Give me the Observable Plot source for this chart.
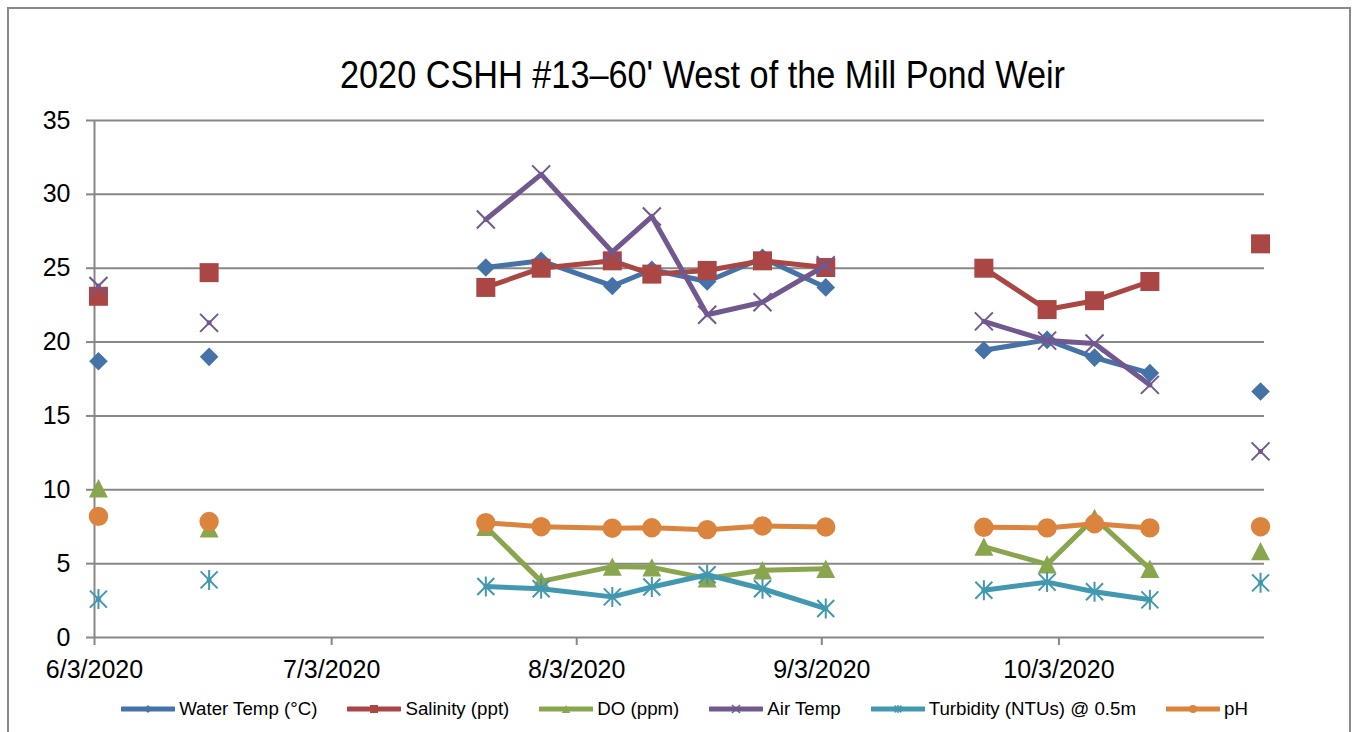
<!DOCTYPE html>
<html>
<head>
<meta charset="utf-8">
<script src="https://cdn.jsdelivr.net/npm/d3@7"></script>
<script src="https://cdn.jsdelivr.net/npm/@observablehq/plot@0.6"></script>
<style>
  body { margin: 0; background: #fff; font-family: "Liberation Sans", Arial, sans-serif; }
  #frame { position: absolute; left: 7px; top: 7px; width: 1344px; height: 780px; border: 2px solid #8a8a8a; box-sizing: border-box; }
  #title { position: absolute; left: 0; top: 0; }
  #chart { position: absolute; left: 0; top: 100px; }
  #legend { position: absolute; left: 12px; top: 692px; width: 1345px; height: 34px; display: flex; justify-content: center; align-items: center; gap: 30px; font-size: 18.7px; color: #000; }
  .item { display: flex; align-items: center; white-space: nowrap; }
  .item svg { margin-right: 4px; }
</style>
</head>
<body>
<div id="frame"></div>
<svg id="title" width="1357" height="100"></svg>
<div id="chart"></div>
<div id="legend"></div>
<script>
// ---- data ----
const titleText = "2020 CSHH #13\u201360' West of the Mill Pond Weir";
const dates = ["2020-06-03","2020-06-10","2020-06-17","2020-07-01","2020-07-22","2020-07-29","2020-08-07","2020-08-12","2020-08-19","2020-08-26","2020-09-03","2020-09-16","2020-09-23","2020-10-01","2020-10-07","2020-10-14","2020-10-21","2020-10-28"];
const waterTemp = [18.7, null, 19.0, null, 25.05, 25.5, 23.8, 24.9, 24.1, 25.7, 23.7, null, 19.45, 20.15, 18.95, 17.9, null, 16.65];
const salinity  = [23.1, null, 24.7, null, 23.7, 25.0, 25.5, 24.6, 24.85, 25.5, 25.05, null, 25.0, 22.2, 22.8, 24.1, null, 26.65];
const dissolvedO = [10.1, null, 7.4, null, 7.5, 3.8, 4.8, 4.75, 4.0, 4.55, 4.65, null, 6.15, 4.95, 8.1, 4.65, null, 5.85];
const airTemp   = [23.8, null, 21.3, null, 28.3, 31.35, 26.1, 28.5, 21.85, 22.7, 25.2, null, 21.4, 20.1, 19.9, 17.1, null, 12.6];
const turbidity = [2.6, null, 3.9, null, 3.45, 3.3, 2.75, 3.42, 4.25, 3.3, 1.96, null, 3.2, 3.75, 3.1, 2.55, null, 3.7];
const pH        = [8.2, null, 7.85, null, 7.77, 7.5, 7.4, 7.43, 7.3, 7.55, 7.48, null, 7.46, 7.42, 7.7, 7.42, null, 7.5];
const seriesNames = ["Water Temp (\u00b0C)", "Salinity (ppt)", "DO (ppm)", "Air Temp", "Turbidity (NTUs) @ 0.5m", "pH"];
const yTicks = [0, 5, 10, 15, 20, 25, 30, 35];
const xTickLabels = ["2020-06-03", "2020-07-03", "2020-08-03", "2020-09-03", "2020-10-03"];
const xDomain = ["2020-06-03", "2020-10-29"];

// ---- styles ----
const colors = ["#4572A7", "#AA4643", "#89A54E", "#71588F", "#4198AF", "#DB843D"];
const kinds = ["diamond", "square", "triangle", "times", "star", "circle"];
const values = [waterTemp, salinity, dissolvedO, airTemp, turbidity, pH];

function drawShape(c, kind, s) {
  if (kind === "diamond") { c.moveTo(0, -s); c.lineTo(s, 0); c.lineTo(0, s); c.lineTo(-s, 0); c.closePath(); }
  else if (kind === "square") { c.rect(-s, -s, 2 * s, 2 * s); }
  else if (kind === "triangle") { c.moveTo(0, -s); c.lineTo(s * 1.03, s); c.lineTo(-s * 1.03, s); c.closePath(); }
  else if (kind === "times") { c.moveTo(-s, -s); c.lineTo(s, s); c.moveTo(-s, s); c.lineTo(s, -s); }
  else if (kind === "star") { const d = s * 0.85; c.moveTo(-d, -d); c.lineTo(d, d); c.moveTo(-d, d); c.lineTo(d, -d); c.moveTo(0, -s); c.lineTo(0, s); }
  else if (kind === "circle") { c.moveTo(s, 0); c.arc(0, 0, s, 0, 2 * Math.PI); }
}
const markerSize = {diamond: 9.3, square: 9.5, triangle: 9.2, times: 9, star: 10, circle: 9.7};
const isStroke = k => k === "times" || k === "star";

const toDate = s => new Date(s + "T00:00:00Z");
const noon = s => new Date(s + "T12:00:00Z");

// ---- title ----
const tsvg = d3.select("#title");
tsvg.append("text")
  .attr("x", 702.5).attr("y", 88)
  .attr("text-anchor", "middle")
  .attr("font-family", "'Liberation Sans', Arial, sans-serif")
  .attr("font-size", 38)
  .attr("textLength", 725)
  .attr("lengthAdjust", "spacingAndGlyphs")
  .attr("fill", "#000")
  .text(titleText);

// ---- chart ----
const seriesMarks = [];
values.forEach((arr, i) => {
  const rows = dates.map((d, j) => ({date: noon(d), value: arr[j]}));
  const k = kinds[i];
  const sym = {draw(c) { drawShape(c, k, markerSize[k]); }};
  seriesMarks.push(Plot.line(rows, {x: "date", y: "value", stroke: colors[i], strokeWidth: 5, strokeLinejoin: "round", strokeLinecap: "round"}));
  seriesMarks.push(Plot.dot(rows.filter(r => r.value != null), isStroke(k)
    ? {x: "date", y: "value", symbol: sym, r: 9, fill: "none", stroke: colors[i], strokeWidth: 2}
    : {x: "date", y: "value", symbol: sym, r: 9, fill: colors[i], stroke: "none"}));
});

const fmt = d => `${d.getUTCMonth() + 1}/${d.getUTCDate()}/${d.getUTCFullYear()}`;
const gridColor = "#878787";

const chart = Plot.plot({
  width: 1357,
  height: 592,
  marginLeft: 94,
  marginRight: 93,
  marginTop: 20,
  marginBottom: 55,
  style: {fontFamily: "'Liberation Sans', Arial, sans-serif", background: "transparent", color: "#000"},
  x: {type: "utc", domain: xDomain.map(toDate), label: null},
  y: {domain: [0, 35], label: null},
  marks: [
    Plot.ruleY(yTicks, {stroke: gridColor, strokeWidth: 2}),
    Plot.axisY({ticks: yTicks, tickSize: 8, tickPadding: 16, fontSize: 25, stroke: gridColor, strokeWidth: 2, fill: "#000", label: null}),
    Plot.ruleX([toDate(xDomain[0])], {y1: 0, y2: 35, stroke: gridColor, strokeWidth: 2}),
    Plot.axisX({ticks: xTickLabels.map(toDate), tickFormat: fmt, tickSize: 8, tickPadding: 15, fontSize: 25, stroke: gridColor, strokeWidth: 2, fill: "#000", label: null}),
    ...seriesMarks
  ]
});
document.getElementById("chart").appendChild(chart);

// ---- legend ----
const legend = d3.select("#legend");
seriesNames.forEach((name, i) => {
  const item = legend.append("div").attr("class", "item");
  const svg = item.append("svg").attr("width", 54).attr("height", 14);
  svg.append("line").attr("x1", 1).attr("x2", 53).attr("y1", 7).attr("y2", 7)
    .attr("stroke", colors[i]).attr("stroke-width", 5).attr("stroke-linecap", "round");
  const p = d3.path();
  drawShape(p, kinds[i], 4);
  const g = svg.append("path").attr("d", p.toString()).attr("transform", "translate(27,7)");
  if (isStroke(kinds[i])) g.attr("fill", "none").attr("stroke", colors[i]).attr("stroke-width", 1.5);
  else g.attr("fill", colors[i]);
  item.append("span").text(name);
});
</script>
</body>
</html>
